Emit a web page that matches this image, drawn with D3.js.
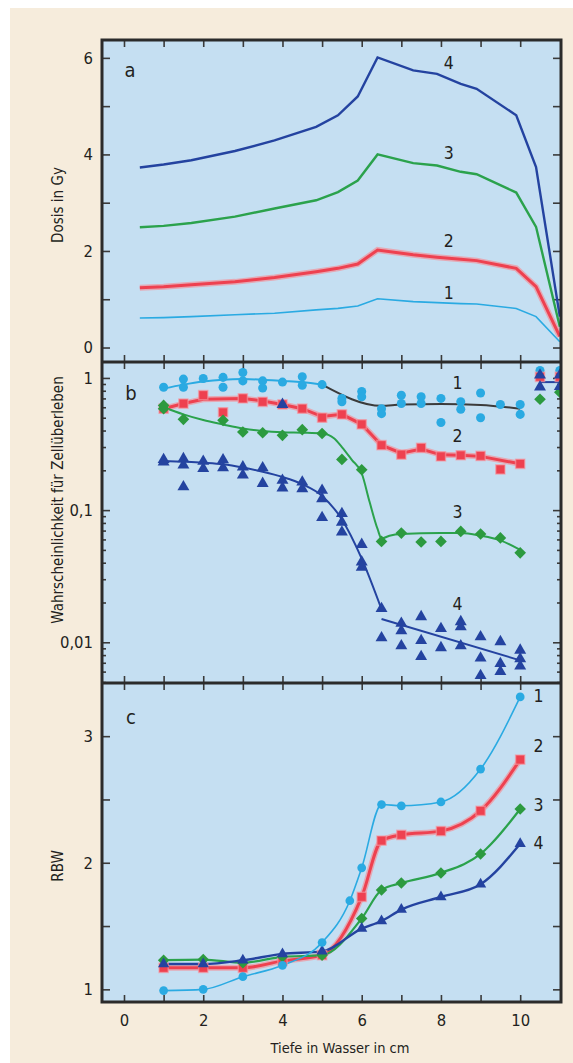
<!DOCTYPE html>
<html>
<head>
<meta charset="utf-8">
<script src="https://cdn.jsdelivr.net/npm/d3@7"></script>
<style>
  body { margin: 0; background: #fff; }
  svg { display: block; }
  text { font-family: "Liberation Sans Narrow", "DejaVu Sans Condensed", sans-serif; fill: #231f20; }
  .tick line { stroke: #3a3a3a; stroke-width: 1.6; }
  .tick text { font-size: 16.5px; }
</style>
</head>
<body>
<svg id="chart" width="573" height="1063"></svg>
<script>
// ---- panel a: dose vs depth
var depthA = [0.4, 1.0, 1.7, 2.8, 3.8, 4.85, 5.4, 5.9, 6.4, 7.3, 7.9, 8.5, 8.9, 9.9, 10.4, 11.0];
var doseA1 = [0.61, 0.62, 0.64, 0.68, 0.71, 0.78, 0.81, 0.86, 1.01, 0.95, 0.93, 0.91, 0.90, 0.81, 0.64, 0.12];
var doseA2 = [1.24, 1.26, 1.30, 1.36, 1.45, 1.57, 1.64, 1.73, 2.02, 1.92, 1.87, 1.83, 1.80, 1.64, 1.26, 0.23];
var doseA3 = [2.49, 2.52, 2.58, 2.71, 2.88, 3.05, 3.22, 3.46, 4.00, 3.82, 3.77, 3.64, 3.59, 3.21, 2.50, 0.43];
var doseA4 = [3.73, 3.79, 3.88, 4.07, 4.29, 4.57, 4.81, 5.20, 6.01, 5.74, 5.67, 5.46, 5.36, 4.81, 3.74, 0.64];

// ---- panel b: survival (measured points [depth, value])
var survPts1 = [[1,0.85],[1.5,0.98],[1.5,0.85],[2,0.99],[2.5,1.01],[2.5,0.85],[3,1.10],[3,0.95],[3.5,0.95],[3.5,0.84],
  [4,0.93],[4.5,1.02],[4.5,0.88],[5,0.89],[5.5,0.70],[5.5,0.66],[6,0.79],[6,0.72],[6.5,0.585],[6.5,0.537],
  [7,0.74],[7,0.64],[7.5,0.72],[7.5,0.64],[8,0.70],[8,0.46],[8.5,0.66],[8.5,0.58],[9,0.77],[9,0.50],
  [9.5,0.63],[10,0.63],[10,0.53],[10.5,1.14],[11,1.14]];
var survPts2 = [[1,0.585],[1.5,0.64],[2,0.74],[2.5,0.55],[3,0.70],[3.5,0.66],[4,0.63],[4.5,0.585],[5,0.50],
  [5.5,0.53],[6,0.446],[6.5,0.31],[7,0.263],[7.5,0.296],[8,0.255],[8.5,0.26],[9,0.257],[9.5,0.203],[10,0.224],
  [10.5,1.02],[11,1.02]];
var survPts3 = [[1,0.585],[1,0.62],[1.5,0.486],[2.5,0.478],[3,0.39],[3.5,0.385],[4,0.368],[4.5,0.406],[5,0.38],
  [5.5,0.242],[6,0.202],[6.5,0.058],[7,0.067],[7.5,0.0574],[8,0.058],[8.5,0.069],[9,0.066],[9.5,0.0616],[10,0.0475],
  [10.5,0.69],[11,0.78]];
var survPts4 = [[1,0.241],[1,0.231],[1.5,0.245],[1.5,0.219],[1.5,0.15],[2,0.234],[2,0.206],[2.5,0.24],[2.5,0.209],
  [3,0.212],[3,0.184],[3.5,0.209],[3.5,0.159],[4,0.168],[4,0.147],[4,0.63],[4.5,0.163],[4.5,0.145],
  [5,0.141],[5,0.122],[5,0.0877],[5.5,0.094],[5.5,0.081],[5.5,0.0682],[6,0.055],[6,0.0405],[6,0.037],
  [6.5,0.018],[6.5,0.0108],[7,0.0139],[7,0.0122],[7,0.0094],[7.5,0.0156],[7.5,0.0103],[7.5,0.0078],
  [8,0.0127],[8,0.0091],[8.5,0.0143],[8.5,0.0131],[8.5,0.0094],[9,0.011],[9,0.0076],[9,0.0056],
  [9.5,0.0101],[9.5,0.0069],[9.5,0.006],[10,0.0087],[10,0.0075],[10,0.0066],[10.5,1.05],[10.5,0.855],[11,1.05],[11,0.86]];

// fitted curves of panel b
var survFit1 = [[1,0.83],[1.5,0.89],[2,0.94],[2.5,0.97],[3,0.98],[3.5,0.97],[4,0.95],[4.5,0.93],[5,0.89]];
var survFit1b = [[5,0.89],[6.5,0.615],[7,0.63],[8,0.635],[9,0.625],[10,0.585]];
var survFit2 = [[1,0.585],[1.5,0.64],[2,0.69],[3,0.70],[3.5,0.67],[4,0.63],[4.5,0.585],[5,0.51],[5.5,0.53],
  [6,0.446],[6.5,0.31],[7,0.27],[7.5,0.29],[8,0.262],[8.5,0.26],[9,0.255],[10,0.224]];
var survFit3 = [[1,0.60],[1.5,0.53],[2,0.48],[2.5,0.445],[3,0.415],[3.5,0.397],[4,0.388],[4.5,0.385],[5,0.38],
  [5.3,0.35],[5.5,0.30],[5.75,0.24],[6,0.19],[6.2,0.115],[6.4,0.072],[6.5,0.061],[6.7,0.064],[7,0.066],
  [8,0.067],[8.5,0.067],[9,0.064],[9.5,0.059],[10,0.05]];
var survFit4 = [[1,0.235],[2,0.228],[2.5,0.222],[3,0.21],[3.5,0.195],[4,0.178],[4.5,0.157],[5,0.128],
  [5.5,0.085],[6,0.043],[6.5,0.0178]];
var survFit4b = [[6.5,0.0150],[10,0.0073]];
var survFit5 = [[10.5,0.93],[11,0.93]];

// ---- panel c: RBW
var depthC = [1, 2, 3, 4, 5, 6, 6.5, 7, 8, 9, 10];
var rbwC1 = [[1,0.99],[2,1.00],[3,1.10],[4,1.19],[5,1.37],[5.7,1.70],[6,1.96],[6.5,2.46],[7,2.45],[8,2.48],[9,2.74],[10,3.31]];
var rbwC2 = [1.17, 1.17, 1.17, 1.225, 1.27, 1.73, 2.175, 2.22, 2.25, 2.41, 2.815];
var rbwC3 = [1.23, 1.235, 1.21, 1.257, 1.27, 1.56, 1.785, 1.84, 1.92, 2.07, 2.425];
var rbwC4 = [1.20, 1.20, 1.23, 1.28, 1.30, 1.48, 1.54, 1.63, 1.73, 1.83, 2.15];

// ---- axes
var xTicks = [0,1,2,3,4,5,6,7,8,9,10];
var xLabels = [0,2,4,6,8,10];
var yTicksA = [0,1,2,3,4,5,6];
var yTicksC = [1,1.5,2,2.5,3];

var col = { c1: '#2aaae2', c2: '#ee4150', c3: '#2ba24c', c4: '#2443a0', k: '#3b3b3b' };

var svg = d3.select('#chart');
var L = 102, R = 561;
var panels = [ {top: 40, bottom: 362}, {top: 362, bottom: 683}, {top: 683, bottom: 1002} ];

svg.append('rect').attr('x',10).attr('y',8).attr('width',563).attr('height',1055).attr('fill','#f6ecdc');
svg.append('rect').attr('x',L).attr('y',40).attr('width',R-L).attr('height',1002-40).attr('fill','#c5dff2');

var x = d3.scaleLinear().domain([-0.555, 11.03]).range([L, R]);
var yA = d3.scaleLinear().domain([-0.3, 6.37]).range([362, 40]);
var yB = d3.scaleLog().domain([0.00492, 1.32]).range([683, 362]);
var yC = d3.scaleLinear().domain([0.90, 3.42]).range([1002, 683]);

var defs = svg.append('defs');
panels.forEach(function(p, i) {
	defs.append('clipPath').attr('id','clip'+i)
		.append('rect').attr('x',L).attr('y',p.top).attr('width',R-L).attr('height',p.bottom-p.top);
});
defs.append('filter').attr('id','soft').append('feGaussianBlur').attr('stdDeviation',0.7);

function frameAxes(i, y, majors, fmt, minors) {
	var p = panels[i];
	var g = svg.append('g');
	g.append('g').attr('transform','translate(0,'+p.top+')')
		.call(d3.axisTop(x).tickValues(xTicks).tickSize(-7).tickFormat(''));
	g.append('g').attr('transform','translate(0,'+p.bottom+')')
		.call(d3.axisBottom(x).tickValues(xTicks).tickSize(-7).tickFormat(''));
	g.append('g').attr('transform','translate('+L+',0)')
		.call(d3.axisLeft(y).tickValues(majors).tickSize(-8).tickPadding(9).tickFormat(fmt));
	g.append('g').attr('transform','translate('+R+',0)')
		.call(d3.axisRight(y).tickValues(majors).tickSize(-8).tickFormat(''));
	if (minors) {
		g.append('g').attr('transform','translate('+L+',0)')
			.call(d3.axisLeft(y).tickValues(minors).tickSize(-4).tickFormat(''));
		g.append('g').attr('transform','translate('+R+',0)')
			.call(d3.axisRight(y).tickValues(minors).tickSize(-4).tickFormat(''));
	}
	g.selectAll('.domain').remove();
	return g;
}

frameAxes(0, yA, yTicksA, function(d){ return d % 2 === 0 ? d : ''; });
var minorB = [];
[0.001, 0.01, 0.1, 1].forEach(function(dec){
	for (var k = 2; k <= 9; k++) { var v = dec*k; if (v > 0.00492 && v < 1.32) minorB.push(v); }
});
frameAxes(1, yB, [0.01, 0.1, 1], function(d){ return d === 1 ? '1' : String(d).replace('.', ','); }, minorB);
var gc = frameAxes(2, yC, yTicksC, function(d){ return d % 1 === 0 ? d : ''; });
gc.append('g').attr('transform','translate(0,1002)')
	.call(d3.axisBottom(x).tickValues(xLabels).tickSize(0).tickPadding(12))
	.selectAll('.domain').remove();

// ---- panel a lines
var plotA = svg.append('g').attr('clip-path','url(#clip0)');
var lineA = d3.line().x(function(d){ return x(d[0]); }).y(function(d){ return yA(d[1]); });
function zipA(vals) { return depthA.map(function(d, i){ return [d, vals[i]]; }); }
plotA.append('path').datum(zipA(doseA2)).attr('d',lineA).attr('fill','none')
	.attr('stroke','#f2939c').attr('stroke-width',6).attr('opacity',0.7).attr('filter','url(#soft)');
plotA.append('path').datum(zipA(doseA2)).attr('d',lineA).attr('fill','none').attr('stroke',col.c2).attr('stroke-width',3);
plotA.append('path').datum(zipA(doseA1)).attr('d',lineA).attr('fill','none').attr('stroke',col.c1).attr('stroke-width',1.6);
plotA.append('path').datum(zipA(doseA3)).attr('d',lineA).attr('fill','none').attr('stroke',col.c3).attr('stroke-width',2.4);
plotA.append('path').datum(zipA(doseA4)).attr('d',lineA).attr('fill','none').attr('stroke',col.c4).attr('stroke-width',2.4);

// ---- panel b
var plotB = svg.append('g').attr('clip-path','url(#clip1)');
var lineB = d3.line().x(function(d){ return x(d[0]); }).y(function(d){ return yB(d[1]); });
var smoothB = d3.line().curve(d3.curveMonotoneX).x(function(d){ return x(d[0]); }).y(function(d){ return yB(d[1]); });

// rot: degrees, used to turn a square into a diamond
function marks(g, pts, y, type, size, color, halo, rot) {
	var sym = d3.symbol().type(type).size(size);
	g.selectAll(null).data(pts).enter().append('path')
		.attr('d', sym)
		.attr('transform', function(d){ return 'translate('+x(d[0])+','+y(d[1])+') rotate('+(rot||0)+')'; })
		.attr('fill', color)
		.attr('stroke', halo || 'none').attr('stroke-width', halo ? 1.5 : 0).attr('stroke-opacity',0.6);
}

plotB.append('path').datum(survFit2).attr('d',lineB).attr('fill','none')
	.attr('stroke','#f2939c').attr('stroke-width',6).attr('opacity',0.7).attr('filter','url(#soft)');
plotB.append('path').datum(survFit2).attr('d',lineB).attr('fill','none').attr('stroke',col.c2).attr('stroke-width',3);
plotB.append('path').datum(survFit1).attr('d',smoothB).attr('fill','none').attr('stroke',col.c1).attr('stroke-width',2);
plotB.append('path').datum(survFit1b).attr('d',smoothB).attr('fill','none').attr('stroke',col.k).attr('stroke-width',2);
plotB.append('path').datum(survFit3).attr('d',smoothB).attr('fill','none').attr('stroke',col.c3).attr('stroke-width',2);
plotB.append('path').datum(survFit4).attr('d',smoothB).attr('fill','none').attr('stroke',col.c4).attr('stroke-width',2);
plotB.append('path').datum(survFit4b).attr('d',lineB).attr('fill','none').attr('stroke',col.c4).attr('stroke-width',2);
plotB.append('path').datum(survFit5).attr('d',lineB).attr('fill','none').attr('stroke',col.c4).attr('stroke-width',2);

marks(plotB, survPts1, yB, d3.symbolCircle, 64, col.c1);
marks(plotB, survPts2, yB, d3.symbolSquare, 85, col.c2, '#f59aa3');
marks(plotB, survPts3, yB, d3.symbolSquare, 68, '#2c9a3f', null, 45);
marks(plotB, survPts4, yB, d3.symbolTriangle, 62, col.c4);

// ---- panel c
var plotC = svg.append('g').attr('clip-path','url(#clip2)');
var smoothC = d3.line().curve(d3.curveMonotoneX).x(function(d){ return x(d[0]); }).y(function(d){ return yC(d[1]); });
function zipC(vals) { return depthC.map(function(d, i){ return [d, vals[i]]; }); }

plotC.append('path').datum(zipC(rbwC2)).attr('d',smoothC).attr('fill','none')
	.attr('stroke','#f2939c').attr('stroke-width',6).attr('opacity',0.7).attr('filter','url(#soft)');
plotC.append('path').datum(zipC(rbwC2)).attr('d',smoothC).attr('fill','none').attr('stroke',col.c2).attr('stroke-width',3);
plotC.append('path').datum(zipC(rbwC3)).attr('d',smoothC).attr('fill','none').attr('stroke',col.c3).attr('stroke-width',2.2);
plotC.append('path').datum(zipC(rbwC4)).attr('d',smoothC).attr('fill','none').attr('stroke',col.c4).attr('stroke-width',2.4);
plotC.append('path').datum(rbwC1).attr('d',smoothC).attr('fill','none').attr('stroke',col.c1).attr('stroke-width',1.6);

marks(plotC, zipC(rbwC2), yC, d3.symbolSquare, 85, col.c2, '#f59aa3');
marks(plotC, zipC(rbwC3), yC, d3.symbolSquare, 66, '#2c9a3f', null, 45);
marks(plotC, zipC(rbwC4), yC, d3.symbolTriangle, 55, col.c4);
marks(plotC, rbwC1, yC, d3.symbolCircle, 60, col.c1);

// ---- frame
svg.append('rect').attr('x',L).attr('y',40).attr('width',R-L).attr('height',1002-40)
	.attr('fill','none').attr('stroke','#2b2b2b').attr('stroke-width',3);
[362, 683].forEach(function(yy){
	svg.append('line').attr('x1',L).attr('x2',R).attr('y1',yy).attr('y2',yy)
		.attr('stroke','#2b2b2b').attr('stroke-width',3);
});

// ---- texts
function label(t, px, py, size) {
	svg.append('text').attr('x',px).attr('y',py).attr('text-anchor','middle')
		.attr('dominant-baseline','central').style('font-size',(size||17.5)+'px').text(t);
}
label('a', 130, 70, 20); label('b', 131, 393, 20); label('c', 131, 717, 20);

['4','3','2','1'].forEach(function(t, i){
	label(t, x(8.2), yA([5.89, 4.03, 2.21, 1.13][i]));
});
['1','2','3','4'].forEach(function(t, i){
	label(t, x(8.42), yB([0.917, 0.366, 0.0975, 0.0195][i]));
});
['1','2','3','4'].forEach(function(t, i){
	label(t, x(10.46), yC([3.32, 2.92, 2.456, 2.16][i]));
});

function vtitle(t, cx, cy) {
	svg.append('text').attr('transform','translate('+cx+','+cy+') rotate(-90)')
		.attr('text-anchor','middle').attr('dominant-baseline','central')
		.style('font-size','15px').text(t);
}
vtitle('Dosis in Gy', 58, 205);
vtitle('Wahrscheinlichkeit für Zellüberleben', 58, 500);
vtitle('RBW', 58, 866);

svg.append('text').attr('x',340).attr('y',1048).attr('text-anchor','middle')
	.attr('dominant-baseline','central').style('font-size','14.5px').text('Tiefe in Wasser in cm');
</script>
</body>
</html>
